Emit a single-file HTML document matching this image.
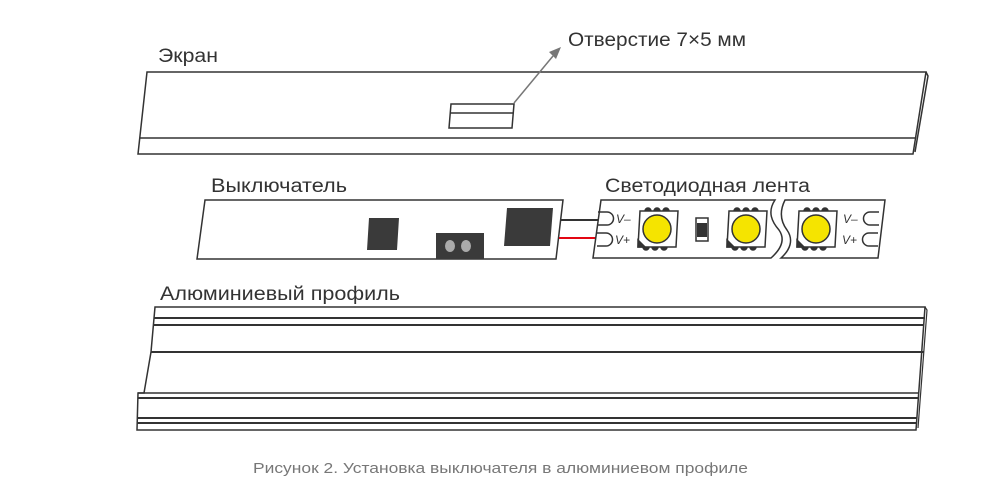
<!DOCTYPE html>
<html><head><meta charset="utf-8"><style>
html,body{margin:0;padding:0;background:#fff;}
svg{display:block;}
text{font-family:"Liberation Sans Narrow","Liberation Sans",sans-serif;fill:#333;}
</style></head><body>
<svg width="1005" height="498" viewBox="0 0 1005 498" xmlns="http://www.w3.org/2000/svg">
<g fill="none" stroke="#333" stroke-width="1.5">
<path d="M147,72 L926,72 L913,154 L138,154 Z" fill="#fff"/>
<path d="M140,138 L916,138"/>
<path d="M926,72 L928,76 L915,152"/>
<path d="M451,104 L514,104 L512,128 L449,128 Z" fill="#fff"/>
<path d="M450,113 L513,113"/>
</g>
<line x1="514" y1="103" x2="553" y2="56" stroke="#777" stroke-width="1.5"/>
<polygon points="561,47 549,52 556,59" fill="#777"/>
<text x="568" y="46" font-size="19" textLength="178" lengthAdjust="spacingAndGlyphs">Отверстие 7×5 мм</text>
<text x="158" y="62" font-size="19" textLength="60" lengthAdjust="spacingAndGlyphs">Экран</text>

<path d="M205,200 L563,200 L556,259 L197,259 Z" fill="#fff" stroke="#333" stroke-width="1.5"/>
<path d="M369,218 L399,218 L397,250 L367,250 Z" fill="#3a3a3a"/>
<path d="M507,208 L553,208 L550,246 L504,246 Z" fill="#3a3a3a"/>
<rect x="436" y="233" width="48" height="26" fill="#3a3a3a"/>
<ellipse cx="450" cy="246" rx="5" ry="6" fill="#aaa"/>
<ellipse cx="466" cy="246" rx="5" ry="6" fill="#aaa"/>
<line x1="561" y1="220" x2="600" y2="220" stroke="#333" stroke-width="2"/>
<line x1="559" y1="238" x2="597" y2="238" stroke="#e30613" stroke-width="2"/>
<text x="211" y="192" font-size="19" textLength="136" lengthAdjust="spacingAndGlyphs">Выключатель</text>
<text x="605" y="192" font-size="19" textLength="205" lengthAdjust="spacingAndGlyphs">Светодиодная лента</text>

<g stroke="#333" stroke-width="1.5" fill="#fff">
<path d="M601,200 L775,200 C767,212 772,222 779,230 C786,240 780,250 771,258 L593,258 Z"/>
<path d="M785,200 L885,200 L878,258 L781,258 C790,250 794,240 787,230 C781,222 779,212 785,200 Z"/>
</g>
<g fill="none" stroke="#333" stroke-width="1.5">
<path d="M598,212 L607,212 A6.5,6.5 0 0 1 607,225 L598,225"/>
<path d="M597,233 L606,233 A6.5,6.5 0 0 1 606,246 L597,246"/>
<path d="M879,212 L870,212 A6.5,6.5 0 0 0 870,225 L879,225"/>
<path d="M878,233 L869,233 A6.5,6.5 0 0 0 869,246 L878,246"/>
</g>
<g font-size="12" font-style="italic">
<text x="616" y="223">V–</text><text x="615" y="244">V+</text>
<text x="843" y="223">V–</text><text x="842" y="244">V+</text>
</g>
<g stroke="#333" stroke-width="1.5">
<g fill="#333"><circle cx="648" cy="211" r="3"/><circle cx="657" cy="211" r="3"/><circle cx="666" cy="211" r="3"/>
<circle cx="646" cy="247" r="3"/><circle cx="655" cy="247" r="3"/><circle cx="664" cy="247" r="3"/>
<circle cx="737" cy="211" r="3"/><circle cx="746" cy="211" r="3"/><circle cx="755" cy="211" r="3"/>
<circle cx="735" cy="247" r="3"/><circle cx="744" cy="247" r="3"/><circle cx="753" cy="247" r="3"/>
<circle cx="807" cy="211" r="3"/><circle cx="816" cy="211" r="3"/><circle cx="825" cy="211" r="3"/>
<circle cx="805" cy="247" r="3"/><circle cx="814" cy="247" r="3"/><circle cx="823" cy="247" r="3"/></g>
<path d="M640,211 L678,211 L676,247 L638,247 Z" fill="#fff"/>
<path d="M729,211 L767,211 L765,247 L727,247 Z" fill="#fff"/>
<path d="M799,211 L837,211 L835,247 L797,247 Z" fill="#fff"/>
<path d="M638,240 L645,247 L638,247 Z M727,240 L734,247 L727,247 Z M797,240 L804,247 L797,247 Z" fill="#333"/>
<circle cx="657" cy="229" r="14" fill="#f5e400"/>
<circle cx="746" cy="229" r="14" fill="#f5e400"/>
<circle cx="816" cy="229" r="14" fill="#f5e400"/>
<rect x="696" y="218" width="12" height="23" fill="#fff"/>
</g>
<rect x="697" y="223" width="10" height="14" fill="#333"/>

<text x="160" y="300" font-size="19" textLength="240" lengthAdjust="spacingAndGlyphs">Алюминиевый профиль</text>
<g fill="none" stroke="#333">
<path d="M155,307 L925,307 L916,430 L137,430 L138,393 L144,393 L151,352 Z" fill="#fff" stroke-width="1.5"/>
<path d="M154,318 L925,318" stroke-width="2"/>
<path d="M154,325 L924,325" stroke-width="2"/>
<path d="M151,352 L924,352" stroke-width="2"/>
<path d="M138,393 L919,393" stroke-width="1.5"/>
<path d="M138,398 L918,398" stroke-width="2"/>
<path d="M137,418 L917,418" stroke-width="2"/>
<path d="M137,423 L917,423" stroke-width="2"/>
<path d="M925,307 L927,310 L918,428" stroke-width="1.2"/>
</g>

<text x="253" y="473" font-size="15" style="fill:#777" textLength="495" lengthAdjust="spacingAndGlyphs">Рисунок 2. Установка выключателя в алюминиевом профиле</text>
</svg>
</body></html>
